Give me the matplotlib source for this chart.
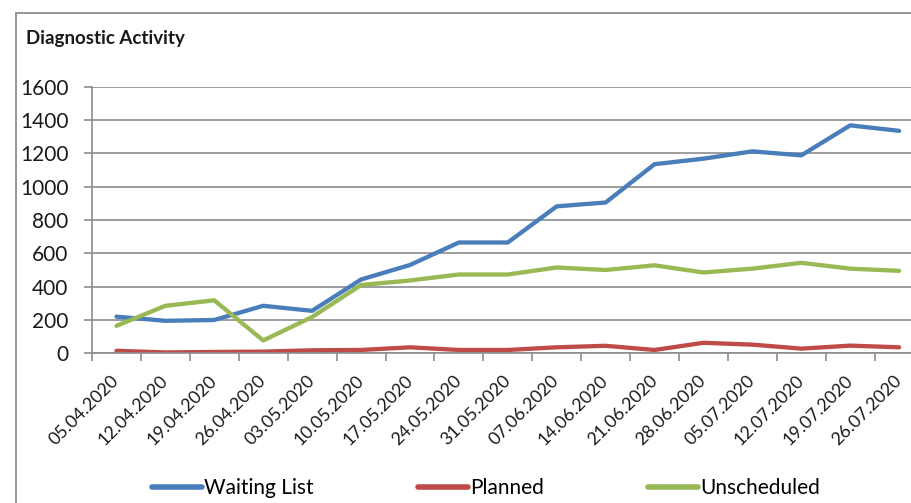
import numpy as np
import matplotlib.pyplot as plt
from matplotlib.patches import Rectangle
from matplotlib.ticker import FixedLocator

plt.rcParams['font.family'] = ['Lato', 'DejaVu Sans']

# weekly dates and counts
weeks = ['05.04.2020', '12.04.2020', '19.04.2020', '26.04.2020', '03.05.2020',
         '10.05.2020', '17.05.2020', '24.05.2020', '31.05.2020', '07.06.2020',
         '14.06.2020', '21.06.2020', '28.06.2020', '05.07.2020', '12.07.2020',
         '19.07.2020', '26.07.2020']
waiting_list = [220, 195, 200, 285, 255, 443, 530, 665, 665, 882, 905,
                1135, 1168, 1212, 1188, 1368, 1335]
planned = [15, 5, 8, 10, 18, 20, 36, 20, 20, 36, 45, 20, 63, 52, 28, 46, 36]
unscheduled = [165, 285, 318, 77, 218, 410, 437, 473, 473, 515, 500,
               528, 485, 508, 543, 508, 495]
yticks = [0, 200, 400, 600, 800, 1000, 1200, 1400, 1600]

W, H = 912, 503
fig = plt.figure(figsize=(W / 100, H / 100), dpi=100)

# chart border (runs off the right and bottom)
fig.add_artist(Rectangle((16 / W, -0.2), 2, 1.2 - 13 / H, transform=fig.transFigure,
                         fill=False, edgecolor='#8c8c8c', linewidth=1.3))

left, right = 92, 923.6
bottom, top = 353.3, 86.7
ax = fig.add_axes([left / W, 1 - bottom / H, (right - left) / W, (bottom - top) / H])

x = np.arange(len(weeks))
ax.plot(x, waiting_list, color='#4A7EBB', lw=3.1, label='Waiting List', solid_capstyle='round')
ax.plot(x, planned, color='#BE4B48', lw=3.1, label='Planned', solid_capstyle='round')
ax.plot(x, unscheduled, color='#98B954', lw=3.1, label='Unscheduled', solid_capstyle='round')

ax.set_xlim(-0.5, len(weeks) - 0.5)
ax.set_ylim(0, 1600)
ax.set_yticks(yticks)
ax.set_yticklabels([str(v) for v in yticks])
ax.grid(axis='y', color='#8c8c8c', lw=1.2)
ax.set_axisbelow(True)

ax.set_xticks(x)
ax.set_xticklabels(weeks, rotation=45, ha='right', va='center', rotation_mode='anchor')
ax.xaxis.set_minor_locator(FixedLocator(np.arange(-0.5, len(weeks), 1)))
ax.tick_params(axis='x', which='major', length=0, pad=18, labelsize=12.8, colors='#1a1a1a')
ax.tick_params(axis='x', which='minor', length=6, width=1.2, color='#8c8c8c', direction='out')
ax.tick_params(axis='y', length=6, width=1.2, color='#8c8c8c', pad=11, labelsize=15,
               labelcolor='#1a1a1a')

for side in ['top', 'right']:
    ax.spines[side].set_visible(False)
for side in ['left', 'bottom']:
    ax.spines[side].set_color('#8c8c8c')
    ax.spines[side].set_linewidth(1.2)

fig.text(26 / W, 1 - 44 / H, 'Diagnostic Activity', fontsize=13.5, fontweight='bold',
         color='#1a1a1a', ha='left', va='baseline')

leg = fig.legend(loc='center', bbox_to_anchor=(486 / W, 1 - 488 / H), ncol=3, frameon=False,
                 fontsize=15, handlelength=2.4, handletextpad=0.1, columnspacing=5.0)
for h in leg.legend_handles:
    h.set_linewidth(4)

fig.savefig('out.png', dpi=100)
